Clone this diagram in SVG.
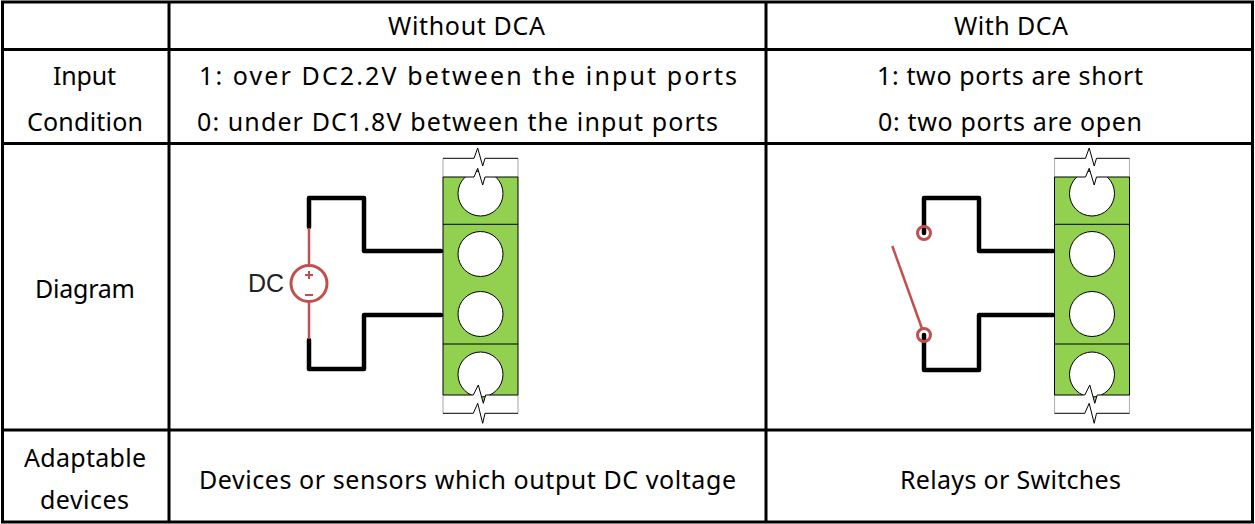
<svg xmlns="http://www.w3.org/2000/svg" xmlns:xlink="http://www.w3.org/1999/xlink" width="1255" height="524" viewBox="0 0 1255 524">
<style>
.grid{stroke:#000;stroke-width:3;fill:none}
.t{font-family:"Noto Sans","Open Sans",sans-serif;font-size:25px;fill:#000;text-anchor:middle}
.wire{stroke:#000;stroke-width:4.5;fill:none;stroke-linejoin:round;stroke-linecap:round}
.red{stroke:#C0504D;fill:none}
.thin{stroke:#000;stroke-width:1;fill:none}
.side{stroke:#b5b5b5;stroke-width:1.2}
</style>
<defs>
<clipPath id="blk">
<path d="M0,177 H31 L34.7,168.3 L39.7,185 L42,177 H75 V395 H42.7 L40.3,403.3 L35.3,385 L30.3,395 H0 Z"/>
</clipPath>
<g id="terminal">
<line class="side" x1="0" y1="158.3" x2="0" y2="177"/>
<line class="side" x1="75" y1="158.3" x2="75" y2="177"/>
<line class="side" x1="0" y1="395" x2="0" y2="413.3"/>
<line class="side" x1="75" y1="395" x2="75" y2="413.3"/>
<g clip-path="url(#blk)">
<rect x="0" y="160" width="75" height="250" fill="#92D050"/>
<circle cx="37.5" cy="193.5" r="22.5" fill="#fff" stroke="#000" stroke-width="1"/>
<circle cx="37.5" cy="254" r="22.5" fill="#fff" stroke="#000" stroke-width="1"/>
<circle cx="37.5" cy="314" r="22.5" fill="#fff" stroke="#000" stroke-width="1"/>
<circle cx="37.5" cy="374.5" r="22.5" fill="#fff" stroke="#000" stroke-width="1"/>
</g>
<line class="thin" x1="0" y1="177" x2="0" y2="395"/>
<line class="thin" x1="75" y1="177" x2="75" y2="395"/>
<line class="thin" x1="0" y1="224.3" x2="75" y2="224.3"/>
<line class="thin" x1="0" y1="344" x2="75" y2="344"/>
<polyline class="thin" points="0,177 31,177 34.7,168.3 39.7,185 42,177 75,177"/>
<polyline class="thin" points="0,395 30.3,395 35.3,385 40.3,403.3 42.7,395 75,395"/>
<polyline class="thin" points="0,158.3 31,158.3 34.7,148 39.7,166 42,158.3 75,158.3"/>
<polyline class="thin" points="0,413.3 30.3,413.3 34.7,403.3 39.7,423.3 42,413.3 75,413.3"/>
</g>
</defs>

<g id="table">
<rect class="grid" x="2.5" y="2" width="1250" height="520"/>
<line class="grid" x1="169" y1="2" x2="169" y2="522"/>
<line class="grid" x1="766" y1="2" x2="766" y2="522"/>
<line class="grid" x1="2" y1="49.5" x2="1253" y2="49.5"/>
<line class="grid" x1="2" y1="143.5" x2="1253" y2="143.5"/>
<line class="grid" x1="2" y1="430" x2="1253" y2="430"/>
</g>

<g id="headers">
<text class="t" x="466.5" y="35" textLength="157" lengthAdjust="spacing">Without DCA</text>
<text class="t" x="1011" y="35" textLength="114" lengthAdjust="spacing">With DCA</text>
</g>
<g id="row-input">
<text class="t" x="84.5" y="84.5" textLength="63" lengthAdjust="spacing">Input</text>
<text class="t" x="85" y="130.5" textLength="116" lengthAdjust="spacing">Condition</text>
<text class="t" x="468" y="84.5" textLength="538" lengthAdjust="spacing">1: over DC2.2V between the input ports</text>
<text class="t" x="457.5" y="130.5" textLength="521" lengthAdjust="spacing">0: under DC1.8V between the input ports</text>
<text class="t" x="1010" y="84.5" textLength="266" lengthAdjust="spacing">1: two ports are short</text>
<text class="t" x="1010" y="130.5" textLength="264" lengthAdjust="spacing">0: two ports are open</text>
</g>
<g id="row-diagram">
<text class="t" x="85" y="297.5" textLength="100" lengthAdjust="spacing">Diagram</text>
</g>
<g id="row-devices">
<text class="t" x="85" y="466.5" textLength="122" lengthAdjust="spacing">Adaptable</text>
<text class="t" x="84.5" y="508.5" textLength="89" lengthAdjust="spacing">devices</text>
<text class="t" x="467.5" y="488.5" textLength="537" lengthAdjust="spacing">Devices or sensors which output DC voltage</text>
<text class="t" x="1010.5" y="488.5" textLength="221" lengthAdjust="spacing">Relays or Switches</text>
</g>

<g id="terminal-left"><use xlink:href="#terminal" transform="translate(443,0)"/></g>
<g id="terminal-right"><use xlink:href="#terminal" transform="translate(1054.5,0)"/></g>

<g id="connectors">
<path class="wire" d="M309,227 V198 H364 V251 H441"/>
<path class="wire" d="M441,315 H364 V369 H309 V340"/>
<path class="wire" d="M924,233 V198 H979 V251 H1053"/>
<path class="wire" d="M1053,315 H979 V370 H924 V335"/>
</g>

<g id="dc-source">
<line class="red" stroke-width="2.5" x1="309" y1="228" x2="309" y2="265"/>
<line class="red" stroke-width="2.5" x1="309" y1="302" x2="309" y2="339"/>
<circle class="red" stroke-width="3" cx="309" cy="283.5" r="18"/>
<path class="red" stroke-width="2" d="M305,275 H313 M309,271 V279 M305,295 H313"/>
<text x="248" y="292" font-family="Liberation Sans, Arial, sans-serif" font-size="25" fill="#222">DC</text>
</g>

<g id="switch">
<circle class="red" stroke-width="3" cx="924" cy="233" r="6.5"/>
<circle class="red" stroke-width="3" cx="924" cy="335" r="6.5"/>
<line class="red" stroke-width="2.5" x1="892.3" y1="246" x2="922.5" y2="330"/>
</g>
</svg>
